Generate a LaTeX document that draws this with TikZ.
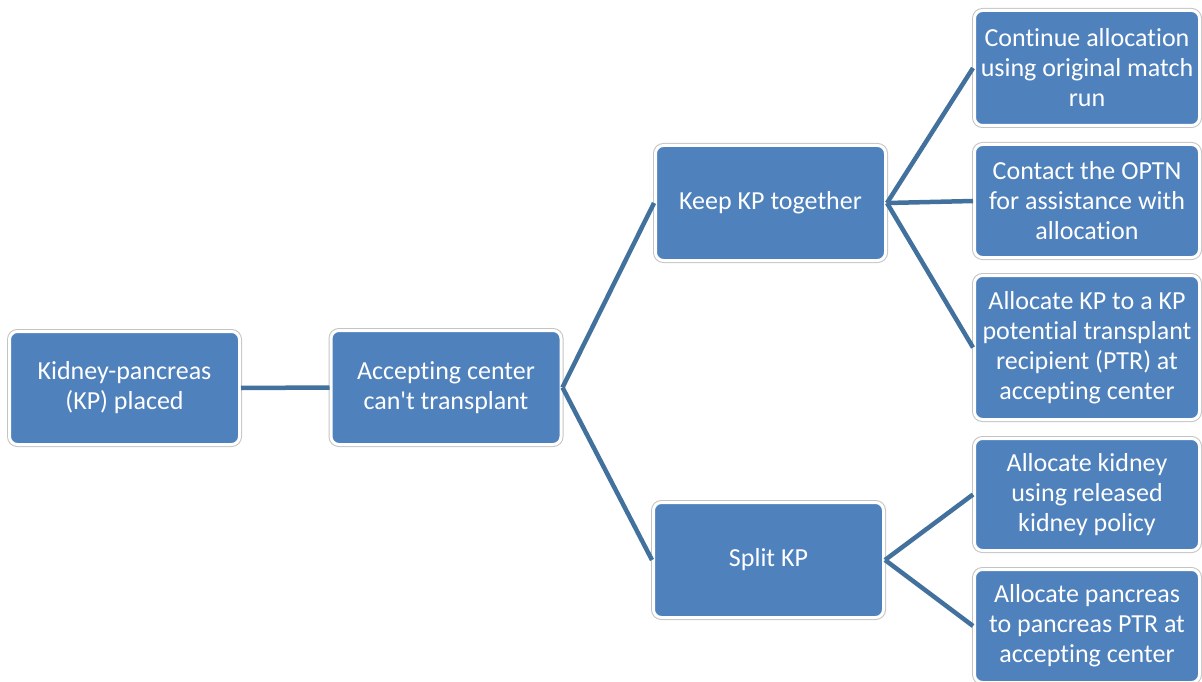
\documentclass[tikz,border=0pt]{standalone}
\usepackage{fontspec}
\setmainfont{Carlito}[Ligatures=NoCommon]

\definecolor{kpfill}{HTML}{4F81BD}
\definecolor{kpline}{HTML}{41719C}
\definecolor{kpframe}{HTML}{C4C4C4}

% keeps t and i apart (no ti ligature)
\newcommand{\tisplit}{t\kern0pt i}

\tikzset{
	box/.style={rectangle, rounded corners=8pt, fill=kpfill, draw=white, line width=3pt,
		preaction={draw=kpframe, line width=5pt}, text=white, align=center,
		font=\fontsize{26}{30}\selectfont, inner sep=0pt, minimum width=230pt},
	leaf/.style={box, minimum width=225pt},
	link/.style={draw=kpline, line width=4.5pt},
}

\begin{document}
\begin{tikzpicture}[x=1pt, y=1pt]
	\clip (0,0) rectangle (1202,-682);
	\useasboundingbox (0,0) rectangle (1202,-682);

	\node[box, minimum height=113pt] (placed) at (124.5,-388) {Kidney-pancreas\\(KP) placed};
	\node[box, minimum height=114pt] (center) at (446,-387.5) {Accep\tisplit ng center\\can\textquotesingle t transplant};
	\node[box, minimum height=115pt] (together) at (770.5,-203) {Keep KP together};
	\node[box, minimum height=115pt] (split) at (768.5,-560) {Split KP};

	\node[leaf, minimum height=115pt] (original) at (1087,-68) {Con\tisplit nue allocation\\using original match\\run};
	\node[leaf, minimum height=113pt] (optn) at (1087,-201) {Contact the OPTN\\for assistance with\\allocation};
	\node[leaf, minimum height=144pt] (ptr) at (1087,-347.5) {Allocate KP to a KP\\poten\tisplit al transplant\\recipient (PTR) at\\accepting center};
	\node[leaf, minimum height=112pt] (kidney) at (1087,-494.5) {Allocate kidney\\using released\\kidney policy};
	\node[leaf, minimum height=113pt] (pancreas) at (1087,-626) {Allocate pancreas\\to pancreas PTR at\\accep\tisplit ng center};

	\draw[link] (placed.east) -- (center.west);
	\draw[link] (center.east) -- (together.west);
	\draw[link] (center.east) -- (split.west);
	\draw[link] (together.east) -- (original.west);
	\draw[link] (together.east) -- (optn.west);
	\draw[link] (together.east) -- (ptr.west);
	\draw[link] (split.east) -- (kidney.west);
	\draw[link] (split.east) -- (pancreas.west);
\end{tikzpicture}
\end{document}
